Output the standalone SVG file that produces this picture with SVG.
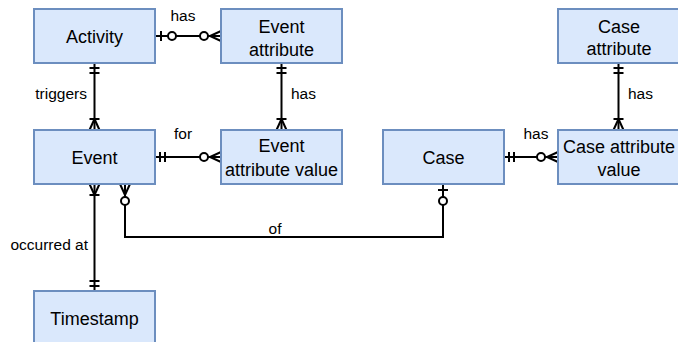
<svg xmlns="http://www.w3.org/2000/svg" width="678" height="342" viewBox="0 0 678 342">
<style>
.box{fill:#dae8fc;stroke:#6c8ebf;stroke-width:2}
.t{font-family:"Liberation Sans",Arial,sans-serif;font-size:18px;fill:#000;text-anchor:middle}
.l{font-family:"Liberation Sans",Arial,sans-serif;font-size:15.5px;fill:#000}
.c{fill:none;stroke:#000;stroke-width:2}
.m{fill:none;stroke:#000;stroke-width:2}
.mc{fill:#fff;stroke:#000;stroke-width:2}
</style>
<defs>
<marker id="mandOne" markerUnits="userSpaceOnUse" orient="auto-start-reverse" refX="0" refY="0" markerWidth="1" markerHeight="1" overflow="visible">
<path class="m" d="M-5,-5V5M-10,-5V5"/>
</marker>
<marker id="oneToMany" markerUnits="userSpaceOnUse" orient="auto-start-reverse" refX="0" refY="0" markerWidth="1" markerHeight="1" overflow="visible">
<path class="m" d="M0,-5L-11,0L0,5M-11,-5V5"/>
</marker>
<marker id="zeroToMany" markerUnits="userSpaceOnUse" orient="auto-start-reverse" refX="0" refY="0" markerWidth="1" markerHeight="1" overflow="visible">
<path class="m" d="M0,-5L-11,0L0,5"/>
<circle class="mc" cx="-17" cy="0" r="4"/>
</marker>
<marker id="zeroToOne" markerUnits="userSpaceOnUse" orient="auto-start-reverse" refX="0" refY="0" markerWidth="1" markerHeight="1" overflow="visible">
<path class="m" d="M-6,-5V5"/>
<circle class="mc" cx="-17" cy="0" r="4"/>
</marker>
</defs>
<g id="connectors">
<path class="c" d="M155,36H221" marker-start="url(#zeroToOne)" marker-end="url(#zeroToMany)"/>
<path class="c" d="M94.5,63V130" marker-start="url(#mandOne)" marker-end="url(#oneToMany)"/>
<path class="c" d="M281.5,63V130" marker-start="url(#mandOne)" marker-end="url(#oneToMany)"/>
<path class="c" d="M155,157H221" marker-start="url(#mandOne)" marker-end="url(#zeroToMany)"/>
<path class="c" d="M504,157H558" marker-start="url(#mandOne)" marker-end="url(#zeroToMany)"/>
<path class="c" d="M618.5,63V130" marker-start="url(#mandOne)" marker-end="url(#oneToMany)"/>
<path class="c" d="M94.5,184V291" marker-start="url(#oneToMany)" marker-end="url(#mandOne)"/>
<path class="c" d="M125,184V237H443V184" marker-start="url(#zeroToMany)" marker-end="url(#zeroToOne)"/>
<text class="l" x="183" y="21" text-anchor="middle">has</text>
<text class="l" x="87" y="99" text-anchor="end">triggers</text>
<text class="l" x="291" y="99">has</text>
<text class="l" x="183" y="139" text-anchor="middle">for</text>
<text class="l" x="536" y="139" text-anchor="middle">has</text>
<text class="l" x="628" y="99">has</text>
<text class="l" x="275" y="234" text-anchor="middle">of</text>
<text class="l" x="88" y="250" text-anchor="end">occurred at</text>
</g>
<g id="activity"><rect class="box" x="34" y="9" width="121" height="54"/><text class="t" x="94.5" y="42.5">Activity</text></g>
<g id="event-attribute"><rect class="box" x="221" y="9" width="121" height="54"/><text class="t" x="281.5" y="33">Event</text><text class="t" x="281.5" y="56">attribute</text></g>
<g id="event"><rect class="box" x="34" y="130" width="121" height="54"/><text class="t" x="94.5" y="164">Event</text></g>
<g id="event-attribute-value"><rect class="box" x="221" y="130" width="121" height="54"/><text class="t" x="281.5" y="152">Event</text><text class="t" x="281.5" y="176">attribute value</text></g>
<g id="case"><rect class="box" x="383" y="130" width="121" height="54"/><text class="t" x="443.5" y="164">Case</text></g>
<g id="case-attribute"><rect class="box" x="558" y="9" width="121" height="54"/><text class="t" x="619" y="32.5">Case</text><text class="t" x="619" y="55">attribute</text></g>
<g id="case-attribute-value"><rect class="box" x="558" y="130" width="121" height="54"/><text class="t" x="619" y="153">Case attribute</text><text class="t" x="619" y="176">value</text></g>
<g id="timestamp"><rect class="box" x="34" y="291" width="121" height="54"/><text class="t" x="94.5" y="324.5">Timestamp</text></g>
</svg>
